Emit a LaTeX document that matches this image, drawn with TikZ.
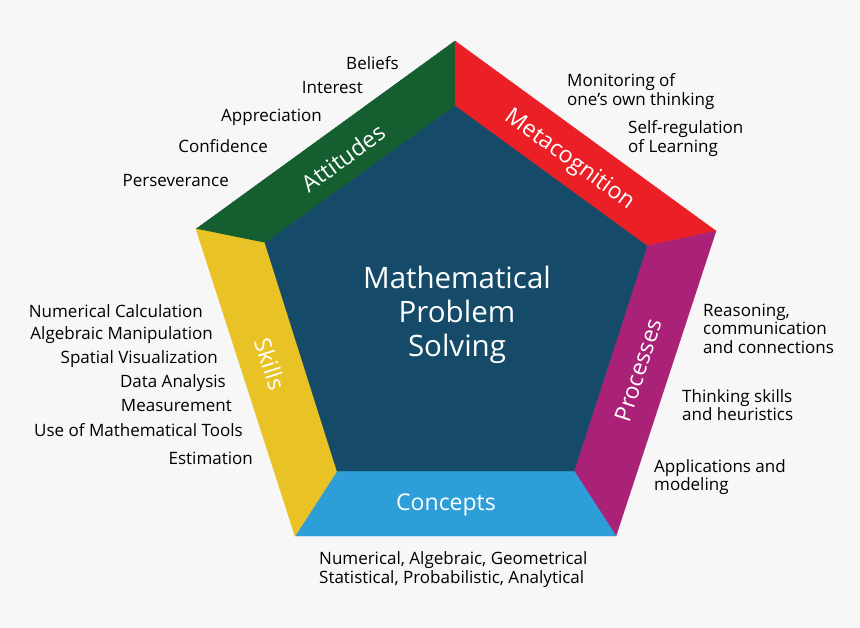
\documentclass[tikz,border=0pt]{standalone}
\usepackage{fontspec}
\setmainfont{Open Sans}
\definecolor{bgc}{HTML}{F7F7F7}
\definecolor{attc}{HTML}{155E30}
\definecolor{metc}{HTML}{EB2027}
\definecolor{proc}{HTML}{A92277}
\definecolor{conc}{HTML}{2E9ED8}
\definecolor{skic}{HTML}{E9C326}
\definecolor{midc}{HTML}{154B69}
\begin{document}
\begin{tikzpicture}[x=1pt,y=-1pt,
  lbl/.style={font=\fontsize{17}{20}\selectfont, text=black, inner sep=0pt, text height=11pt, text depth=3pt, yshift=-2.5pt},
  cat/.style={font=\fontsize{23}{26}\selectfont, text=white, inner sep=0pt},
  mid/.style={font=\fontsize{29.5}{34}\selectfont, text=white, inner sep=0pt, align=center},
  band/.style={line width=0.4pt, line join=round}
]
\useasboundingbox (0,0) rectangle (860,628);
\fill[bgc] (0,0) rectangle (860,628);
% outer and inner vertices
\coordinate (OT) at (455,41);
\coordinate (OR) at (716,231);
\coordinate (OBR) at (616,536);
\coordinate (OBL) at (295,536);
\coordinate (OL) at (196,229);
\coordinate (IT) at (455,106);
\coordinate (IR) at (647,246);
\coordinate (IBR) at (574,471);
\coordinate (IBL) at (337,471);
\coordinate (IL) at (265,243);
% bands
\filldraw[band, fill=attc, draw=attc] (OL) -- (OT) -- (IT) -- (IL) -- cycle;
\filldraw[band, fill=metc, draw=metc] (OT) -- (OR) -- (IR) -- (IT) -- cycle;
\filldraw[band, fill=proc, draw=proc] (OR) -- (OBR) -- (IBR) -- (IR) -- cycle;
\filldraw[band, fill=conc, draw=conc] (OBR) -- (OBL) -- (IBL) -- (IBR) -- cycle;
\filldraw[band, fill=skic, draw=skic] (OBL) -- (OL) -- (IL) -- (IBL) -- cycle;
\filldraw[band, fill=midc, draw=midc] (IT) -- (IR) -- (IBR) -- (IBL) -- (IL) -- cycle;
% band labels
\node[cat, rotate=36] (catatt) at (343,158) {Attitudes};
\node[cat, rotate=-36] (catmet) at (569,160) {Metacognition};
\node[cat, rotate=72] (catpro) at (638,370) {Processes};
\node[cat, rotate=-72] (catski) at (270,364) {Skills};
\node[cat] (catcon) at (446,505) {Concepts};
% centre
\node[mid] (centre) at (457,315) {Mathematical\\Problem\\Solving};
% attitudes
\node[lbl, anchor=east] (a1) at (399,63) {Beliefs};
\node[lbl, anchor=east] (a2) at (363,87) {Interest};
\node[lbl, anchor=east] (a3) at (322,115) {Appreciation};
\node[lbl, anchor=east] (a4) at (268,146) {Confidence};
\node[lbl, anchor=east] (a5) at (229,180) {Perseverance};
% metacognition
\node[lbl, anchor=west] (m1) at (567,80) {Monitoring of};
\node[lbl, anchor=west] (m2) at (567,99) {one’s own thinking};
\node[lbl, anchor=west] (m3) at (628,127) {Self-regulation};
\node[lbl, anchor=west] (m4) at (628,146) {of Learning};
% processes
\node[lbl, anchor=west] (p1) at (703,310) {Reasoning,};
\node[lbl, anchor=west] (p2) at (703,328) {communication};
\node[lbl, anchor=west] (p3) at (703,347) {and connections};
\node[lbl, anchor=west] (p4) at (682,396) {Thinking skills};
\node[lbl, anchor=west] (p5) at (682,414) {and heuristics};
\node[lbl, anchor=west] (p6) at (654,466) {Applications and};
\node[lbl, anchor=west] (p7) at (654,484) {modeling};
% skills
\node[lbl, anchor=east] (s1) at (203,311) {Numerical Calculation};
\node[lbl, anchor=east] (s2) at (213,333) {Algebraic Manipulation};
\node[lbl, anchor=east] (s3) at (218,357) {Spatial Visualization};
\node[lbl, anchor=east] (s4) at (226,381) {Data Analysis};
\node[lbl, anchor=east] (s5) at (232,405) {Measurement};
\node[lbl, anchor=east] (s6) at (243,430) {Use of Mathematical Tools};
\node[lbl, anchor=east] (s7) at (253,458) {Estimation};
% concepts
\node[lbl, anchor=west] (c1) at (319,558) {Numerical, Algebraic, Geometrical};
\node[lbl, anchor=west] (c2) at (319,577) {Statistical, Probabilistic, Analytical};
\end{tikzpicture}
\end{document}
